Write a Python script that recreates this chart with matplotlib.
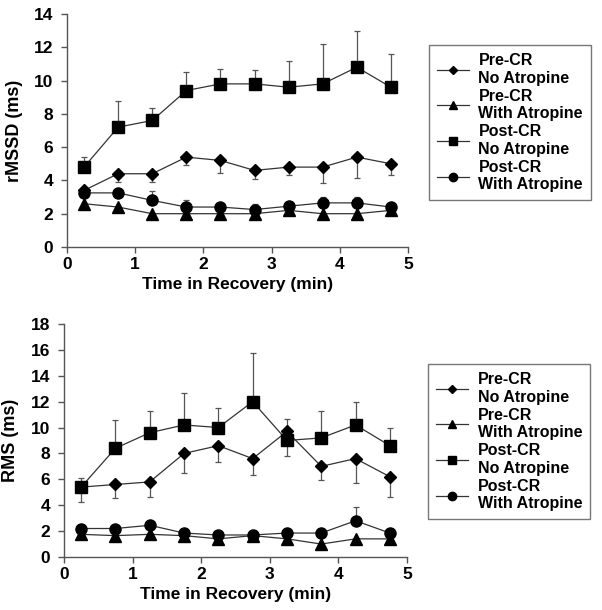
import matplotlib
matplotlib.use("Agg")
import matplotlib.pyplot as plt
import numpy as np

plt.rcParams['font.family'] = ['Liberation Sans', 'DejaVu Sans']
plt.rcParams['font.weight'] = 'bold'

time = [0.25, 0.75, 1.25, 1.75, 2.25, 2.75, 3.25, 3.75, 4.25, 4.75]
labels = ["Pre-CR\nNo Atropine", "Pre-CR\nWith Atropine",
          "Post-CR\nNo Atropine", "Post-CR\nWith Atropine"]

# rMSSD (top)
rmssd_pre_no = [3.4, 4.4, 4.4, 5.4, 5.2, 4.6, 4.8, 4.8, 5.4, 5.0]
rmssd_pre_no_err = [0.2, 0.5, 0.5, 0.5, 0.74, 0.54, 0.48, 0.94, 1.26, 0.66]
rmssd_pre_at = [2.6, 2.4, 2.0, 2.0, 2.0, 2.0, 2.2, 2.0, 2.0, 2.2]
rmssd_pre_at_err = [0.1, 0.1, 0.1, 0.1, 0.1, 0.1, 0.1, 0.1, 0.1, 0.1]
rmssd_post_no = [4.8, 7.2, 7.6, 9.4, 9.8, 9.8, 9.6, 9.8, 10.8, 9.6]
rmssd_post_no_err = [0.6, 1.56, 0.74, 1.14, 0.88, 0.86, 1.6, 2.38, 2.16, 2.0]
rmssd_post_at = [3.25, 3.25, 2.8, 2.4, 2.4, 2.25, 2.45, 2.65, 2.65, 2.4]
rmssd_post_at_err = [0.2, 0.2, 0.54, 0.4, 0.2, 0.34, 0.2, 0.34, 0.38, 0.2]

# RMS (bottom)
rms_pre_no = [5.4, 5.6, 5.8, 8.0, 8.6, 7.6, 9.7, 7.0, 7.6, 6.2]
rms_pre_no_err = [1.15, 1.08, 1.16, 1.54, 1.26, 1.23, 1.88, 1.08, 1.87, 1.59]
rms_pre_at = [1.75, 1.65, 1.75, 1.65, 1.4, 1.65, 1.4, 1.0, 1.4, 1.4]
rms_pre_at_err = [0.1, 0.1, 0.1, 0.1, 0.1, 0.1, 0.1, 0.1, 0.1, 0.1]
rms_post_no = [5.4, 8.4, 9.6, 10.2, 10.0, 12.0, 9.0, 9.2, 10.2, 8.6]
rms_post_no_err = [0.72, 2.21, 1.70, 2.47, 1.49, 3.73, 1.64, 2.04, 1.80, 1.33]
rms_post_at = [2.2, 2.2, 2.45, 1.85, 1.7, 1.7, 1.85, 1.85, 2.8, 1.85]
rms_post_at_err = [0.2, 0.2, 0.2, 0.2, 0.2, 0.2, 0.2, 0.2, 1.1, 0.2]

markers = ['D', '^', 's', 'o']
msizes = [6, 8, 8, 8]
# which side the error bars go: -1 lower, +1 upper
err_dir = [-1, -1, 1, 1]

fig = plt.figure(figsize=(6.02, 6.10), dpi=100)
ax1 = fig.add_axes([0.1113, 0.5951, 0.5664, 0.382])
ax2 = fig.add_axes([0.1063, 0.0869, 0.5698, 0.382])

panels = [
    (ax1, [rmssd_pre_no, rmssd_pre_at, rmssd_post_no, rmssd_post_at],
     [rmssd_pre_no_err, rmssd_pre_at_err, rmssd_post_no_err, rmssd_post_at_err],
     "rMSSD (ms)", 14, (0.7126, 0.926)),
    (ax2, [rms_pre_no, rms_pre_at, rms_post_no, rms_post_at],
     [rms_pre_no_err, rms_pre_at_err, rms_post_no_err, rms_post_at_err],
     "RMS (ms)", 18, (0.711, 0.403)),
]

for ax, series, errs, ylabel, ymax, legpos in panels:
    handles = []
    for k in range(4):
        y = np.array(series[k])
        e = np.array(errs[k])
        if err_dir[k] < 0:
            yerr = [e, np.zeros_like(e)]
        else:
            yerr = [np.zeros_like(e), e]
        ax.errorbar(time, y, yerr=yerr, fmt='none', ecolor='#555555',
                    elinewidth=0.9, capsize=2.5, capthick=0.9, zorder=2)
        h, = ax.plot(time, y, color='#333333', lw=0.9, marker=markers[k],
                     markersize=msizes[k], markerfacecolor='black',
                     markeredgecolor='black', zorder=3, label=labels[k])
        handles.append(h)
    ax.set_xlim(0, 5)
    ax.set_ylim(0, ymax)
    ax.set_xticks(range(0, 6))
    ax.set_yticks(range(0, ymax + 1, 2))
    for s in ['top', 'right']:
        ax.spines[s].set_visible(False)
    for s in ['left', 'bottom']:
        ax.spines[s].set_color('#555555')
        ax.spines[s].set_linewidth(1.0)
    ax.tick_params(direction='out', length=4, width=1, color='#555555',
                   labelsize=12.5)
    ax.tick_params(axis='y', pad=6)
    ax.tick_params(axis='x', pad=3)
    for t in ax.get_xticklabels() + ax.get_yticklabels():
        t.set_fontweight('bold')
    ax.set_xlabel("Time in Recovery (min)", fontsize=12.5, fontweight='bold',
                  labelpad=4)
    ax.set_ylabel(ylabel, fontsize=13, fontweight='bold', labelpad=8)
    leg = fig.legend(handles=handles, loc='upper left',
                     bbox_to_anchor=legpos, frameon=True,
                     fancybox=False, edgecolor='#555555',
                     handlelength=2.0, handletextpad=0.6, labelspacing=0.2,
                     borderpad=0.5, borderaxespad=0, markerscale=0.75,
                     prop={'weight': 'bold', 'size': 11.5})
    leg.get_frame().set_linewidth(1.0)

fig.savefig("out.png", dpi=100)
